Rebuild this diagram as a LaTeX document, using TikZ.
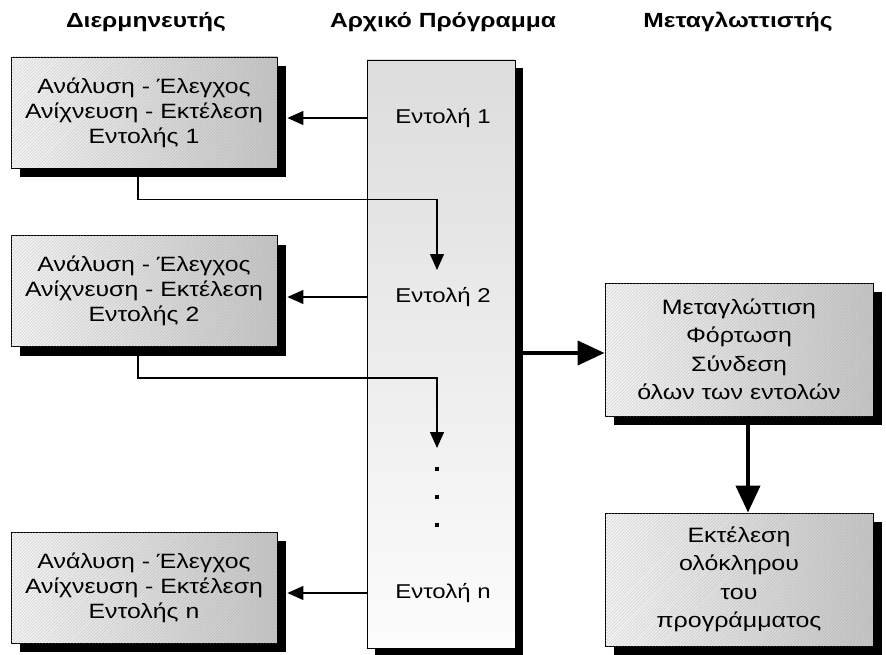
\documentclass[tikz,border=0pt]{standalone}
\usepackage{fontspec}
\setmainfont{Liberation Sans}
\newfontfamily\widefont[FakeStretch=1.2]{Liberation Sans}
\usetikzlibrary{arrows.meta,shadows,patterns.meta,calc}
\tikzset{
  hatch/.style={postaction={pattern={Lines[angle=45,distance=2.2pt,line width=0.35pt]},pattern color=gray!80,opacity=0.45}},
  boxbase/.style={draw=black, line width=0.9pt, align=center,
    general shadow={fill=black, shadow xshift=9pt, shadow yshift=-9pt},
    left color=gray!8, right color=gray!45, hatch},
  lbox/.style={boxbase, minimum width=266pt, minimum height=111pt,
    font=\widefont\fontsize{20.7}{25}\selectfont},
  rbox/.style={boxbase, minimum width=268pt, minimum height=133pt,
    font=\widefont\fontsize{20.8}{28.5}\selectfont},
  colbox/.style={draw=black, line width=0.9pt, minimum width=148pt, minimum height=588pt,
    general shadow={fill=black, shadow xshift=8pt, shadow yshift=-8pt},
    top color=gray!27, bottom color=gray!2},
  head/.style={font=\widefont\bfseries\fontsize{20.5}{24}\selectfont},
  cmd/.style={font=\widefont\fontsize{20}{24}\selectfont},
  thinarrow/.style={line width=1.3pt, -{Triangle[length=16pt,width=14pt]}},
  thickarrow/.style={line width=4pt, -{Triangle[length=27pt,width=24pt]}},
  dotsq/.style={fill=black, inner sep=0pt, minimum size=3.2pt}
}
\begin{document}
\begin{tikzpicture}[x=1pt,y=-1pt]
\useasboundingbox (0,0) rectangle (886,655);
% headers
\node[head] (h1) at (146,22) {Διερμηνευτής};
\node[head] (h2) at (443,22) {Αρχικό Πρόγραμμα};
\node[head] (h3) at (738,22) {Μεταγλωττιστής};
% source program column
\node[colbox] (col) at (441,354) {};
\node[cmd] (e1) at (443,118) {Εντολή 1};
\node[cmd] (e2) at (443,297) {Εντολή 2};
\node[cmd] (en) at (443,593) {Εντολή n};
\node[dotsq] (d1) at (437,469) {};
\node[dotsq] (d2) at (437,497) {};
\node[dotsq] (d3) at (437,525) {};
% interpreter boxes
\node[lbox] (b1) at (144,112.5) {Ανάλυση - Έλεγχος\\Ανίχνευση - Εκτέλεση\\Εντολής 1};
\node[lbox] (b2) at (144,291) {Ανάλυση - Έλεγχος\\Ανίχνευση - Εκτέλεση\\Εντολής 2};
\node[lbox] (b3) at (144,587.5) {Ανάλυση - Έλεγχος\\Ανίχνευση - Εκτέλεση\\Εντολής n};
% compiler boxes
\node[rbox] (c1) at (739,349.5) {Μεταγλώττιση\\Φόρτωση\\Σύνδεση\\όλων των εντολών};
\node[rbox] (c2) at (739,579.5) {Εκτέλεση\\ολόκληρου\\του\\προγράμματος};
% connector helper points
\coordinate (t2) at (437,270);
\coordinate (t3) at (437,448);
% arrows from commands to interpreter boxes
\draw[thinarrow] (col.west |- e1) -- ([xshift=10pt]b1.east |- e1);
\draw[thinarrow] (col.west |- e2) -- ([xshift=10pt]b2.east |- e2);
\draw[thinarrow] (col.west |- en) -- ([xshift=10pt]b3.east |- en);
% flow from box to next command
\draw[thinarrow] ([xshift=-6pt]b1.south) |- ++(0,31) -| (t2);
\draw[thinarrow] ([xshift=-6pt]b2.south) |- ++(0,31) -| (t3);
% compiler arrows
\draw[thickarrow] ([xshift=8pt]col.east |- 0,353) -- (c1.west |- 0,353);
\draw[thickarrow] ([xshift=9pt]c1.south) -- ([xshift=9pt]c2.north);
\end{tikzpicture}
\end{document}
